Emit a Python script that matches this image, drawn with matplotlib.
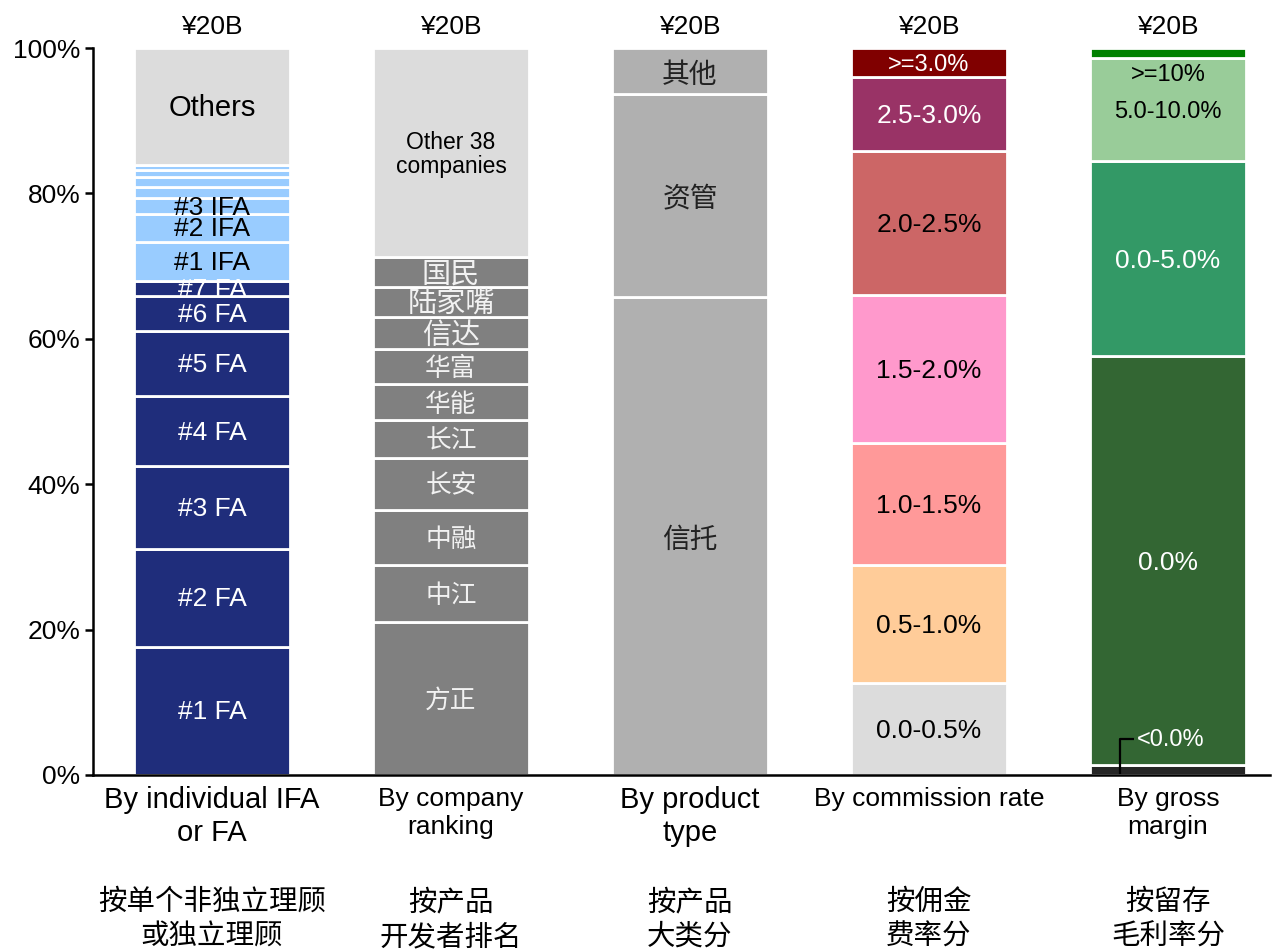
import matplotlib
matplotlib.use('Agg')
import matplotlib.pyplot as plt

plt.rcParams['font.family'] = ['Liberation Sans', 'Noto Sans CJK SC', 'DejaVu Sans']

# ---------------- data ----------------
bar_totals = ['¥20B', '¥20B', '¥20B', '¥20B', '¥20B']

ifa_labels = ['#1 FA', '#2 FA', '#3 FA', '#4 FA', '#5 FA', '#6 FA', '#7 FA',
              '#1 IFA', '#2 IFA', '#3 IFA', '', '', '', '', 'Others']
ifa_values = [17.6, 13.5, 11.4, 9.6, 9.0, 4.8, 2.0,
              5.4, 3.9, 2.1, 1.6, 1.3, 1.0, 0.7, 16.1]

company_labels = ['方正', '中江', '中融', '长安', '长江', '华能', '华富', '信达',
                  '陆家嘴', '国民', 'Other 38\ncompanies']
company_values = [21.0, 7.9, 7.6, 7.1, 5.2, 5.0, 4.8, 4.4, 4.1, 4.2, 28.7]

product_labels = ['信托', '资管', '其他']
product_values = [65.7, 28.0, 6.3]

commission_labels = ['0.0-0.5%', '0.5-1.0%', '1.0-1.5%', '1.5-2.0%',
                     '2.0-2.5%', '2.5-3.0%', '>=3.0%']
commission_values = [12.6, 16.3, 16.8, 20.3, 19.8, 10.2, 4.0]

margin_labels = ['<0.0%', '0.0%', '0.0-5.0%', '5.0-10.0%', '>=10%']
margin_values = [1.4, 56.2, 26.9, 14.1, 1.4]

cat_en = [['By individual IFA', 'or FA'], ['By company', 'ranking'],
          ['By product', 'type'], ['By commission rate'], ['By gross', 'margin']]
cat_zh = [['按单个非独立理顾', '或独立理顾'], ['按产品', '开发者排名'],
          ['按产品', '大类分'], ['按佣金', '费率分'], ['按留存', '毛利率分']]

# ---------------- styles ----------------
DARKBLUE = '#1F2D7B'
LIGHTBLUE = '#99CCFF'
ifa_colors = [DARKBLUE] * 7 + [LIGHTBLUE] * 7 + ['#DCDCDC']
ifa_tc = ['white'] * 7 + ['black'] * 7 + ['black']
ifa_fs = [19] * 14 + [21]

company_colors = ['#808080'] * 10 + ['#DCDCDC']
company_tc = ['#F2F2F2'] * 10 + ['black']
company_fs = [18.5] * 7 + [21, 21, 21] + [16.5]

product_colors = ['#B0B0B0'] * 3
product_tc = ['#222222'] * 3
product_fs = [20, 20, 20]

commission_colors = ['#DCDCDC', '#FFCC99', '#FF9999', '#FF99CC',
                     '#CC6666', '#993366', '#800000']
commission_tc = ['black'] * 5 + ['white', 'white']
commission_fs = [19] * 6 + [17]

margin_colors = ['#262626', '#336633', '#339966', '#99CC99', '#008000']
margin_tc = ['white', 'white', 'white', 'black', 'black']
margin_fs = [17, 19, 19, 17, 17]

label_dy = [-0.2, -0.35, -0.65, -0.3, -0.35]

columns = [
    (ifa_values, ifa_labels, ifa_colors, ifa_tc, ifa_fs),
    (company_values, company_labels, company_colors, company_tc, company_fs),
    (product_values, product_labels, product_colors, product_tc, product_fs),
    (commission_values, commission_labels, commission_colors, commission_tc, commission_fs),
    (margin_values, margin_labels, margin_colors, margin_tc, margin_fs),
]

W, H = 1272, 952
fig = plt.figure(figsize=(W / 100, H / 100), dpi=100)
ax = fig.add_axes([93 / W, 1 - 775 / H, (1270 - 93) / W, (775 - 48) / H])

bar_w = 0.655
for i, (vals, labs, cols, tcs, fss) in enumerate(columns):
    bottom = 0.0
    for j, (v, lab, c, tc, fs) in enumerate(zip(vals, labs, cols, tcs, fss)):
        ax.bar(i, v, bottom=bottom, width=bar_w, color=c, edgecolor='white',
               linewidth=2.0, zorder=2)
        yc = bottom + v / 2 + label_dy[i]
        if lab:
            if i == 4 and lab == '<0.0%':
                xs = i - 0.20
                ax.plot([xs, xs, i - 0.14], [0.2, 4.95, 4.95],
                        color='black', lw=1.6, zorder=4, solid_capstyle='butt')
                ax.text(i - 0.13, 4.8, lab, ha='left', va='center',
                        color=tc, fontsize=fs, zorder=5)
            elif i == 4 and lab == '>=10%':
                ax.text(i, 96.3, lab, ha='center', va='center',
                        color=tc, fontsize=fs, zorder=5)
            else:
                ls = 1.05 if '\n' in lab else 1.2
                ax.text(i, yc, lab, ha='center', va='center', color=tc,
                        fontsize=fs, zorder=5, linespacing=ls)
        bottom += v

ax.set_xlim(-0.498, 4.427)
ax.set_ylim(0, 100)
ax.set_yticks([0, 20, 40, 60, 80, 100])
ax.set_yticklabels(['0%', '20%', '40%', '60%', '80%', '100%'], fontsize=19)
ax.set_xticks([])
ax.tick_params(axis='y', direction='out', length=6, width=1.8, pad=3)
for s in ['top', 'right']:
    ax.spines[s].set_visible(False)
for s in ['left', 'bottom']:
    ax.spines[s].set_linewidth(1.8)
    ax.spines[s].set_zorder(6)
ax.spines['left'].set_bounds(0, 100)

tr = ax.get_xaxis_transform()
def yax(py):
    return (775 - py) / 727

for i, t in enumerate(bar_totals):
    ax.text(i, yax(34), t, transform=tr, ha='center', va='baseline',
            fontsize=19, clip_on=False)

en_sizes = [21, 19, 21, 19, 19]
en_base = [(808, 841), (806, 834), (808, 841), (806,), (806, 834)]
for i, lines in enumerate(cat_en):
    for k, line in enumerate(lines):
        ax.text(i, yax(en_base[i][k]), line, transform=tr, ha='center',
                va='baseline', fontsize=en_sizes[i], clip_on=False)

for i, lines in enumerate(cat_zh):
    for k, line in enumerate(lines):
        ax.text(i, yax([902, 937][k]), line, transform=tr, ha='center',
                va='center', fontsize=20.5, clip_on=False,
                family=['Noto Sans CJK SC', 'DejaVu Sans'])

fig.savefig('out.png', dpi=100)
